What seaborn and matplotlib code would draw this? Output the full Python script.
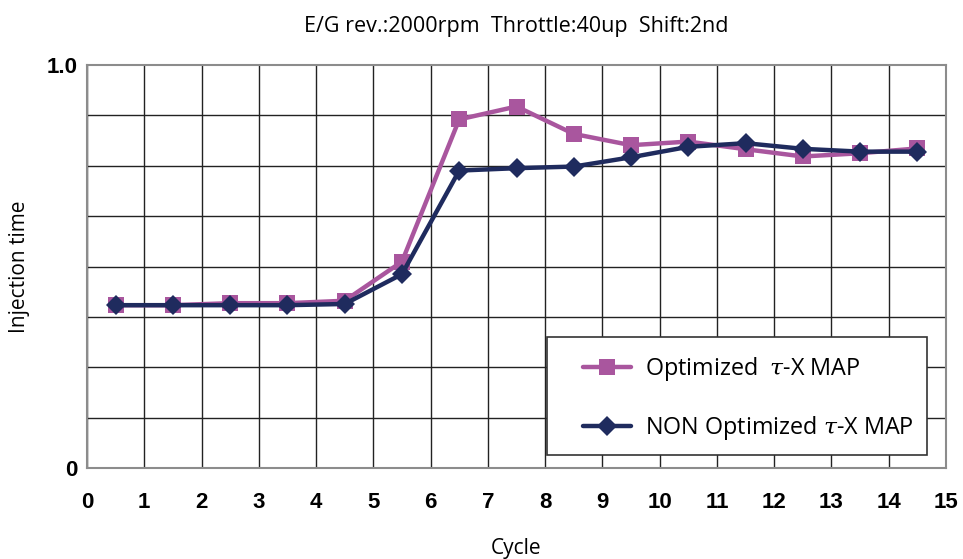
import matplotlib
matplotlib.use('Agg')
import matplotlib.pyplot as plt
from matplotlib.patches import Rectangle
import seaborn as sns
import pandas as pd
import numpy as np

# cycle positions (markers sit at the middle of each cycle)
cycle = [0.5, 1.5, 2.5, 3.5, 4.5, 5.5, 6.5, 7.5, 8.5, 9.5, 10.5, 11.5, 12.5, 13.5, 14.5]
optimized = [0.404, 0.404, 0.409, 0.409, 0.415, 0.512, 0.865, 0.897, 0.829,
             0.801, 0.810, 0.791, 0.773, 0.781, 0.793]
non_optimized = [0.404, 0.404, 0.404, 0.404, 0.407, 0.481, 0.738, 0.744, 0.748,
                 0.771, 0.797, 0.806, 0.792, 0.785, 0.785]
x_ticks = list(range(0, 16))

df = pd.DataFrame({'cycle': cycle, 'opt': optimized, 'non': non_optimized})

sns.set_style('white')
plt.rcParams['mathtext.fontset'] = 'dejavuserif'
plt.rcParams['text.color'] = 'black'
plt.rcParams['axes.labelcolor'] = 'black'

fig = plt.figure(figsize=(9.63, 5.59), dpi=100)
ax = fig.add_axes([87 / 963, 1 - 468 / 559, (946 - 87) / 963, (468 - 65) / 559])

pink = '#A9569E'
navy = '#1F2B5E'

sns.lineplot(data=df, x='cycle', y='opt', ax=ax, color=pink, lw=3.2,
             marker='s', markersize=11, markeredgewidth=0,
             label=r'Optimized  $\tau$-X MAP')
sns.lineplot(data=df, x='cycle', y='non', ax=ax, color=navy, lw=3.2,
             marker='D', markersize=10, markeredgewidth=0,
             label=r'NON Optimized $\tau$-X MAP')

ax.set_xlim(0, 15)
ax.set_ylim(0, 1.0)
ax.set_xticks(x_ticks)
ax.set_yticks([0, 1.0])
ax.set_yticklabels(['0', '1.0'])
ax.set_yticks(np.arange(0, 1.0001, 0.125), minor=True)
ax.grid(True, which='major', axis='x', color='#222222', lw=1.0)
ax.grid(True, which='minor', axis='y', color='#222222', lw=1.0)
ax.set_axisbelow(True)
for s in ax.spines.values():
    s.set_color('#8c8c8c')
    s.set_linewidth(1.5)

ax.tick_params(axis='both', which='both', length=0, labelcolor='black')
ax.tick_params(axis='x', pad=17)
ax.tick_params(axis='y', pad=7)
for lab in ax.get_xticklabels() + ax.get_yticklabels():
    lab.set_fontfamily('Liberation Sans')
    lab.set_fontweight('bold')
    lab.set_fontsize(16)

ax.set_xlabel('Cycle', fontfamily='Open Sans', fontsize=15, labelpad=18)
ax.set_ylabel('Injection time', fontfamily='Open Sans', fontsize=15, labelpad=12)
ax.set_title('E/G rev.:2000rpm  Throttle:40up  Shift:2nd', fontfamily='Open Sans',
             fontsize=15.5, pad=24)

# legend box (white panel with a dark outline), legend entries drawn inside it
box = Rectangle((0.5355, 0.0323), 0.4424, 0.2928, transform=ax.transAxes,
                facecolor='white', edgecolor='#333333', lw=1.2, zorder=5)
ax.add_patch(box)
leg = ax.legend(loc='center left', bbox_to_anchor=(0.5774, 0.1725), frameon=False,
                prop={'family': 'Open Sans', 'size': 16.8}, handlelength=2.06,
                labelspacing=1.33, borderpad=0, handletextpad=0.6,
                borderaxespad=0)
leg.set_zorder(6)

fig.savefig('out.png', dpi=100)
